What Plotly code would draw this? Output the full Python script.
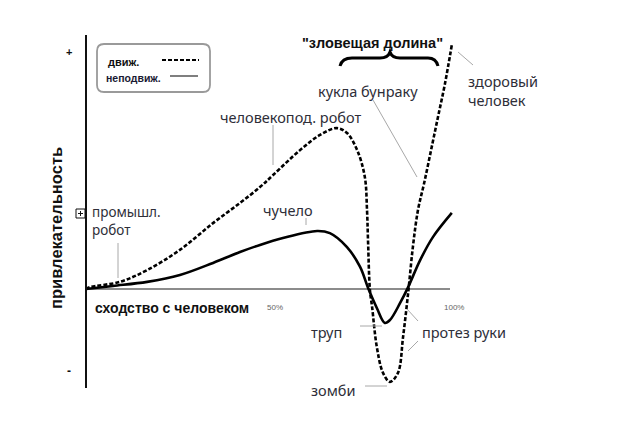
import plotly.graph_objects as go

# ---- data (similarity %, attractiveness; "+" = 100) ----
moving_x = [0, 1.1, 9.3, 16.8, 25.8, 34.9, 42.3, 47.8, 51.4, 58.8, 64.3, 68.9, 71.7, 74.5,
            76.6, 77.2, 77.5, 78.0, 78.6, 79.9, 81.6, 83.5, 85.7, 87.1, 88.5, 89.8, 91.2,
            92.9, 94.8, 96.7, 98.6, 100.5]
moving_y = [0, 0.8, 3.0, 8.0, 16.5, 27.8, 36.3, 43.0, 48.1, 58.6, 65.0, 67.9, 65.8, 58.6,
            47.3, 33.3, 19.4, -0.4, -7.6, -24.5, -35.4, -39.2, -35.4, -20.3, -1.7, 17.7, 33.3,
            44.7, 58.6, 72.6, 86.5, 103.0]
still_x = [0, 7.4, 16.8, 25.8, 34.9, 42.3, 47.8, 54.1, 63.5, 67.0, 71.7, 75.3, 77.5, 79.9,
           82.1, 83.5, 86.3, 88.5, 91.8, 95.3, 100.5]
still_y = [0, 1.3, 3.0, 5.9, 11.0, 15.6, 18.6, 21.5, 24.5, 23.6, 17.7, 9.3, 0.4, -8.0,
           -14.3, -13.1, -5.9, 0.8, 12.2, 21.9, 32.1]

tick_labels = ["50%", "100%"]
legend_labels = ["движ.", "неподвиж."]
x_title = "сходство с человеком"
y_title = "привлекательность"
valley_title = '"зловещая долина"'

# page has an 8px body margin; work in window pixels
PAD = 8
W, H = 620 - 2 * PAD, 427 - 2 * PAD
X0, Y0, SX, SY = 86, 289, 3.64, 2.37


def dx(px):
    return (px - X0) / SX


def dy(py):
    return (Y0 - py) / SY


fig = go.Figure()
fig.add_trace(go.Scatter(x=moving_x, y=moving_y, mode="lines", line_shape="spline",
                         line=dict(color="black", width=2.6, dash="4px,2px"),
                         hoverinfo="skip", showlegend=False))
fig.add_trace(go.Scatter(x=still_x, y=still_y, mode="lines", line_shape="spline",
                         line=dict(color="black", width=2.6),
                         hoverinfo="skip", showlegend=False))

shapes = []
# axes
shapes.append(dict(type="line", x0=dx(86), x1=dx(450), y0=dy(289), y1=dy(289),
                   line=dict(color="#8c8c8c", width=2), layer="below"))
shapes.append(dict(type="line", x0=dx(86), x1=dx(86), y0=dy(35), y1=dy(388),
                   line=dict(color="#111", width=2)))

# leader lines
leaders = [((118, 243), (118, 278)), ((273, 125), (273, 165)), ((306, 218), (306, 225)),
           ((373, 100), (417, 177)), ((458, 52), (473, 65)), ((360, 326), (382, 326)),
           ((407, 309), (418, 321)), ((418, 341), (408, 351)), ((365, 386), (387, 386))]
for (a, b) in leaders:
    shapes.append(dict(type="line", x0=dx(a[0]), y0=dy(a[1]), x1=dx(b[0]), y1=dy(b[1]),
                       line=dict(color="#a8a8a8", width=1)))

# small boxed plus icon next to the axis
shapes.append(dict(type="rect", x0=dx(76), x1=dx(85), y0=dy(209), y1=dy(218),
                   line=dict(color="#111", width=1), fillcolor="white"))
shapes.append(dict(type="line", x0=dx(78), x1=dx(83), y0=dy(213.5), y1=dy(213.5),
                   line=dict(color="#111", width=1)))
shapes.append(dict(type="line", x0=dx(80.5), x1=dx(80.5), y0=dy(211), y1=dy(216),
                   line=dict(color="#111", width=1)))


def rrect(x0, y0, x1, y1, r):
    return (f"M {dx(x0 + r)},{dy(y0)} L {dx(x1 - r)},{dy(y0)} Q {dx(x1)},{dy(y0)} {dx(x1)},{dy(y0 + r)} "
            f"L {dx(x1)},{dy(y1 - r)} Q {dx(x1)},{dy(y1)} {dx(x1 - r)},{dy(y1)} "
            f"L {dx(x0 + r)},{dy(y1)} Q {dx(x0)},{dy(y1)} {dx(x0)},{dy(y1 - r)} "
            f"L {dx(x0)},{dy(y0 + r)} Q {dx(x0)},{dy(y0)} {dx(x0 + r)},{dy(y0)} Z")


shapes.append(dict(type="path", path=rrect(97, 44, 210, 92, 7),
                   line=dict(color="#9a9a9a", width=1.8)))
shapes.append(dict(type="line", x0=dx(162), x1=dx(199), y0=dy(60), y1=dy(60),
                   line=dict(color="black", width=2, dash="4px,2px")))
shapes.append(dict(type="line", x0=dx(170), x1=dx(198), y0=dy(76), y1=dy(76),
                   line=dict(color="#555", width=1.5)))

# curly brace
b = [(340, 66), (342, 58), (352, 58), (380, 58), (388, 58), (390, 52), (392, 58), (400, 58),
     (428, 58), (436, 58), (438, 66)]
brace = (f"M {dx(b[0][0])},{dy(b[0][1])} Q {dx(b[1][0])},{dy(b[1][1])} {dx(b[2][0])},{dy(b[2][1])} "
         f"L {dx(b[3][0])},{dy(b[3][1])} Q {dx(b[4][0])},{dy(b[4][1])} {dx(b[5][0])},{dy(b[5][1])} "
         f"Q {dx(b[6][0])},{dy(b[6][1])} {dx(b[7][0])},{dy(b[7][1])} "
         f"L {dx(b[8][0])},{dy(b[8][1])} Q {dx(b[9][0])},{dy(b[9][1])} {dx(b[10][0])},{dy(b[10][1])}")
shapes.append(dict(type="path", path=brace, line=dict(color="black", width=3)))

TXT = "#2e2e38"
FONT = "Noto Sans"
ann = []


def label(text, px, py, size=14.5, color=TXT, bold=False, anchor="left", family=FONT, angle=0):
    t = f"<b>{text}</b>" if bold else text
    ann.append(dict(x=dx(px), y=dy(py), text=t, showarrow=False, xanchor=anchor, yanchor="middle",
                    align="left", textangle=angle, font=dict(family=family, size=size, color=color)))


label("промышл.<br>робот", 90, 221, size=13.5)
label("человекопод. робот", 218, 117)
label("чучело", 261, 210)
label("кукла бунраку", 316, 91)
label("здоровый<br>человек", 466, 90)
label("труп", 309, 332)
label("протез руки", 420, 332)
label("зомби", 309, 390)
label(valley_title, 372, 43, size=14.5, color="#111", bold=True, anchor="center",
      family="Liberation Sans")
label(x_title, 93, 308, size=14, color="#111", bold=True, family="Liberation Sans")
label(y_title, 56, 228, size=16.5, color="#111", bold=True, anchor="center",
      family="Liberation Sans", angle=-90)
label(tick_labels[0], 275, 307, size=8, color="#666", anchor="center", family="Liberation Sans")
label(tick_labels[1], 454, 307, size=8, color="#666", anchor="center", family="Liberation Sans")
label("+", 69, 52, size=11, color="#111", bold=True, anchor="center", family="Liberation Sans")
label("-", 69, 371, size=12, color="#111", bold=True, anchor="center", family="Liberation Sans")
label(legend_labels[0], 106, 62, size=11, color="#111", bold=True, family="Liberation Sans")
label(legend_labels[1], 104, 78, size=10.5, color="#1a1a33", bold=True, family="Liberation Sans")

fig.update_layout(
    width=W, height=H, margin=dict(l=0, r=0, t=0, b=0),
    paper_bgcolor="white", plot_bgcolor="white",
    xaxis=dict(range=[dx(PAD), dx(PAD + W)], visible=False, fixedrange=True),
    yaxis=dict(range=[dy(PAD + H), dy(PAD)], visible=False, fixedrange=True),
    shapes=shapes, annotations=ann, showlegend=False,
)
fig.write_html("out.html")
